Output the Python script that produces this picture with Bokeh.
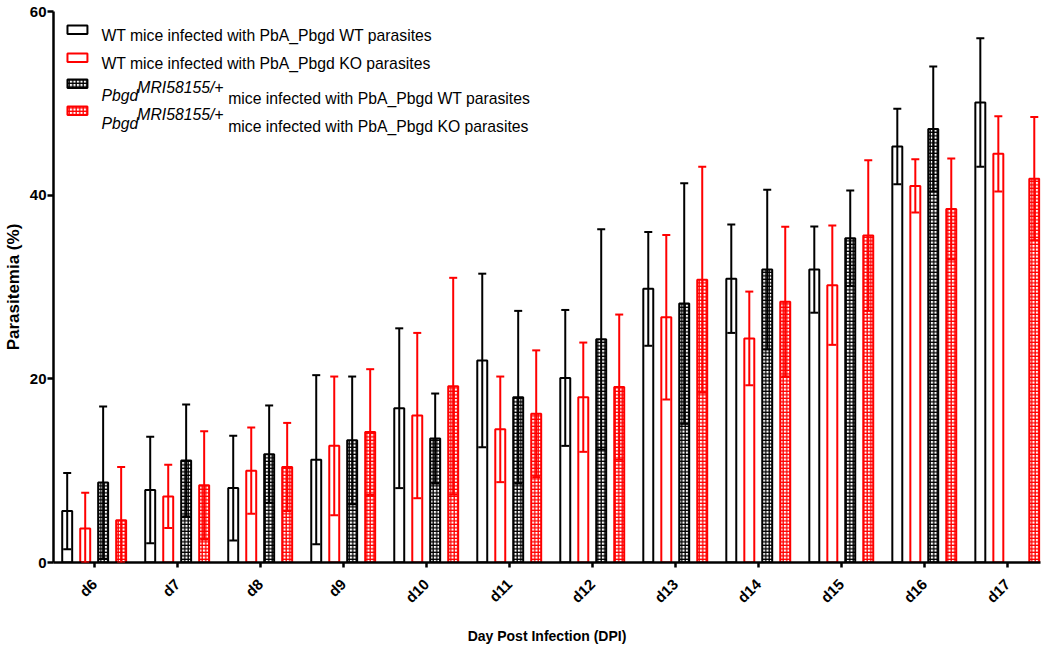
import math
from bokeh.plotting import figure
from bokeh.models import (ColumnDataSource, Whisker, TeeHead, FixedTicker, Range1d,
                          BoxAnnotation, Label)
from bokeh.embed import file_html
from bokeh.resources import INLINE

# ---------------- data ----------------
days = ["d6", "d7", "d8", "d9", "d10", "d11", "d12", "d13", "d14", "d15", "d16", "d17"]

wt_wt_mean = [5.6, 7.9, 8.1, 11.2, 16.8, 22.0, 20.1, 29.8, 30.9, 31.9, 45.3, 50.1]
wt_wt_sd = [4.15, 5.8, 5.7, 9.2, 8.7, 9.45, 7.4, 6.2, 5.9, 4.7, 4.1, 7.0]

wt_ko_mean = [3.7, 7.2, 10.0, 12.7, 16.0, 14.5, 18.0, 26.7, 24.4, 30.2, 41.0, 44.5]
wt_ko_sd = [3.9, 3.45, 4.7, 7.55, 9.0, 5.75, 5.95, 8.95, 5.1, 6.5, 2.9, 4.1]

het_wt_mean = [8.7, 11.1, 11.8, 13.3, 13.5, 18.0, 24.3, 28.2, 31.9, 35.3, 47.2, None]
het_wt_sd = [8.3, 6.1, 5.3, 6.95, 4.9, 9.4, 12.0, 13.1, 8.7, 5.2, 6.8, None]

het_ko_mean = [4.6, 8.4, 10.4, 14.2, 19.2, 16.2, 19.1, 30.8, 28.4, 35.6, 38.5, 41.8]
het_ko_sd = [5.8, 5.9, 4.8, 6.85, 11.8, 6.9, 7.9, 12.3, 8.15, 8.2, 5.5, 6.7]

y_ticks = [0, 20, 40, 60]

# ---------------- figure ----------------
W, H = 1052, 650
FRAME_L, FRAME_R, FRAME_T, FRAME_B = 51, 1040, 11, 562
X0, X1 = -0.49, 11.40
p = figure(width=W, height=H, output_backend="svg", toolbar_location=None,
           x_range=Range1d(X0, X1), y_range=Range1d(0, 60),
           min_border_top=FRAME_T, min_border_right=W - FRAME_R,
           min_border_bottom=H - FRAME_B, min_border_left=FRAME_L)
p.outline_line_color = None
p.xgrid.visible = False
p.ygrid.visible = False
p.background_fill_color = "white"
p.border_fill_color = "white"

FONT = "Liberation Sans"
HATCH = dict(hatch_pattern="cross", hatch_scale=3.5, hatch_weight=1.3)

series = [
    (wt_wt_mean, wt_wt_sd, "black", False, -0.325),
    (wt_ko_mean, wt_ko_sd, "red", False, -0.108),
    (het_wt_mean, het_wt_sd, "black", True, 0.108),
    (het_ko_mean, het_ko_sd, "red", True, 0.325),
]

BAR_W = 0.12
for mean, sd, color, hatched, off in series:
    xs, tops, up, lo = [], [], [], []
    for i, (m, s) in enumerate(zip(mean, sd)):
        if m is None:
            continue
        xs.append(i + off)
        tops.append(m)
        up.append(m + s)
        lo.append(max(m - s, 0.0))
    src = ColumnDataSource(dict(x=xs, top=tops, upper=up, lower=lo))
    kw = dict(fill_color="white", line_color=color, line_width=2)
    if hatched:
        kw.update(hatch_color=color, **HATCH)
    p.vbar(x="x", top="top", bottom=0, width=BAR_W, source=src, **kw)
    wh = Whisker(source=src, base="x", upper="upper", lower="lower",
                 line_color=color, line_width=2, level="annotation",
                 upper_head=TeeHead(size=8, line_color=color, line_width=2),
                 lower_head=TeeHead(size=8, line_color=color, line_width=2))
    p.add_layout(wh)

# ---------------- axes ----------------
p.yaxis.ticker = FixedTicker(ticks=y_ticks)
p.yaxis.axis_label = "Parasitemia (%)"
p.yaxis.axis_label_text_font = FONT
p.yaxis.axis_label_text_font_style = "bold"
p.yaxis.axis_label_text_font_size = "17px"
p.yaxis.axis_label_text_color = "black"
p.yaxis.axis_label_standoff = 4
p.yaxis.major_label_text_font = FONT
p.yaxis.major_label_text_font_style = "bold"
p.yaxis.major_label_text_font_size = "15px"
p.yaxis.major_label_text_color = "black"
p.yaxis.major_label_standoff = 1
p.yaxis.axis_line_width = 2.5
p.yaxis.major_tick_line_width = 2.5
p.yaxis.major_tick_out = 6
p.yaxis.major_tick_in = 0
p.yaxis.minor_tick_line_color = None

p.xaxis.ticker = FixedTicker(ticks=list(range(len(days))))
p.xaxis.major_label_overrides = {i: d for i, d in enumerate(days)}
p.xaxis.major_label_orientation = math.pi / 4
p.xaxis.axis_label = "Day Post Infection (DPI)"
p.xaxis.axis_label_text_font = FONT
p.xaxis.axis_label_text_font_style = "bold"
p.xaxis.axis_label_text_font_size = "14px"
p.xaxis.axis_label_text_color = "black"
p.xaxis.axis_label_standoff = 13
p.xaxis.major_label_text_font = FONT
p.xaxis.major_label_text_font_style = "bold"
p.xaxis.major_label_text_font_size = "15px"
p.xaxis.major_label_text_color = "black"
p.xaxis.major_label_standoff = 14
p.xaxis.axis_line_width = 2.5
p.xaxis.major_tick_line_width = 2.5
p.xaxis.major_tick_out = 5
p.xaxis.major_tick_in = 0
p.xaxis.minor_tick_line_color = None

# ---------------- legend (drawn manually for rich text) ----------------
# layout helpers: page pixel -> data coordinates
def px2x(px):
    return X0 + (px - FRAME_L) * (X1 - X0) / (FRAME_R - FRAME_L)

def px2y(py):
    return (FRAME_B - py) * 60.0 / (FRAME_B - FRAME_T)

legend_rows = [
    ("black", False, 25, 33.5),
    ("red", False, 53, 61.5),
    ("black", True, 79, 87.5),
    ("red", True, 106, 114.5),
]
for color, hatched, top_px, bot_px in legend_rows:
    kw = dict(fill_color="white", fill_alpha=1.0, line_color=color, line_width=2, line_alpha=1.0)
    if hatched:
        kw.update(hatch_color=color, **HATCH)
    p.add_layout(BoxAnnotation(left=px2x(65), right=px2x(85), top=px2y(top_px),
                               bottom=px2y(bot_px), **kw))

LFS = "15.75px"
plain_texts = ["WT mice infected with PbA_Pbgd WT parasites",
               "WT mice infected with PbA_Pbgd KO parasites"]
for txt, base_px in zip(plain_texts, [35, 63]):
    p.add_layout(Label(x=px2x(99), y=px2y(base_px), text=txt, text_font=FONT,
                       text_font_size=LFS, text_baseline="alphabetic", text_color="black"))

rich_texts = ["mice infected with PbA_Pbgd WT parasites",
              "mice infected with PbA_Pbgd KO parasites"]
for txt, base_px in zip(rich_texts, [95, 122.5]):
    p.add_layout(Label(x=px2x(99), y=px2y(base_px), text="Pbgd", text_font=FONT,
                       text_font_style="italic", text_font_size=LFS,
                       text_baseline="alphabetic", text_color="black"))
    p.add_layout(Label(x=px2x(135), y=px2y(base_px - 8.5), text="MRI58155/+", text_font=FONT,
                       text_font_style="italic", text_font_size=LFS,
                       text_baseline="alphabetic", text_color="black"))
    p.add_layout(Label(x=px2x(226), y=px2y(base_px + 3), text=txt, text_font=FONT,
                       text_font_size=LFS, text_baseline="alphabetic", text_color="black"))

open("out.html", "w").write(file_html(p, INLINE))
